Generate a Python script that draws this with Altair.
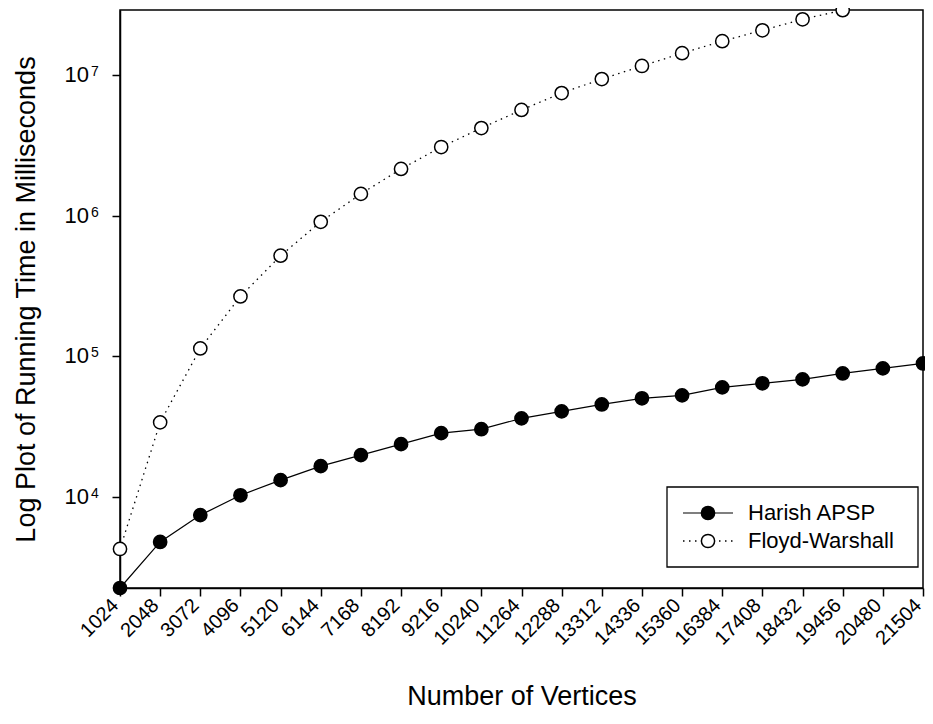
import altair as alt
import pandas as pd

vertices = [1024, 2048, 3072, 4096, 5120, 6144, 7168, 8192, 9216, 10240, 11264,
            12288, 13312, 14336, 15360, 16384, 17408, 18432, 19456, 20480, 21504]
harish = [2260, 4800, 7450, 10300, 13200, 16600, 19900, 23800, 28500, 30400, 36300,
          40700, 45600, 50400, 52900, 60300, 64400, 68700, 75700, 82200, 89200]
floyd_vertices = vertices[:19]
floyd = [4280, 34000, 114000, 267000, 520000, 906000, 1430000, 2150000, 3080000,
         4200000, 5650000, 7450000, 9370000, 11600000, 14300000, 17400000, 20800000,
         24900000, 28900000]
y_ticks = [10000, 100000, 1000000, 10000000]
y_exponents = ["4", "5", "6", "7"]
series_names = ["Harish APSP", "Floyd-Warshall"]

FONT = "Liberation Sans"
W, H = 803, 578

h_df = pd.DataFrame({"v": vertices, "t": harish})
f_df = pd.DataFrame({"v": floyd_vertices, "t": floyd})
yt_df = pd.DataFrame({"t": y_ticks, "e": y_exponents})

xscale = alt.Scale(domain=[1024, 21504], nice=False, zero=False)
yscale = alt.Scale(type="log", domain=[2260, 2.9e7], nice=False)

x_enc = alt.X("v:Q", scale=xscale,
              axis=alt.Axis(values=vertices, format="d", labelAngle=-45,
                            labelAlign="right", labelBaseline="middle",
                            labelPadding=6, labelOffset=-5, labelOverlap=False,
                            title="Number of Vertices", titlePadding=35))
y_enc = alt.Y("t:Q", scale=yscale,
              axis=alt.Axis(values=y_ticks, labels=False,
                            title="Log Plot of Running Time in Milliseconds",
                            titlePadding=71))

h_line = alt.Chart(h_df).mark_line(color="black", strokeWidth=1.2).encode(x=x_enc, y=y_enc)
f_line = alt.Chart(f_df).mark_line(color="black", strokeWidth=1.3, strokeDash=[1.5, 4.5]).encode(
    x=x_enc, y=y_enc)
h_pts = alt.Chart(h_df).mark_point(shape="circle", filled=True, fill="black",
                                   stroke="black", strokeWidth=1.5, size=175,
                                   opacity=1).encode(x=x_enc, y=y_enc)
f_pts = alt.Chart(f_df).mark_point(shape="circle", filled=True, fill="white",
                                   stroke="black", strokeWidth=1.5, size=175,
                                   opacity=1, clip=False).encode(x=x_enc, y=y_enc)

# y tick labels with superscript exponents
ybase = alt.Chart(yt_df).mark_text(align="right", baseline="middle", fontSize=22,
                                   font=FONT, color="black").encode(
    y=y_enc, x=alt.value(-31), text=alt.value("10"))
yexp = alt.Chart(yt_df).mark_text(align="left", baseline="middle", fontSize=14,
                                  font=FONT, color="black", dy=-3).encode(
    y=y_enc, x=alt.value(-29), text="e:N")

# legend
one = pd.DataFrame({"a": [0]})
box = alt.Chart(one).mark_rect(fill="white", stroke="black", strokeWidth=1.3).encode(
    x=alt.value(547), x2=alt.value(798), y=alt.value(477), y2=alt.value(557))
leg_h_line = alt.Chart(one).mark_rule(color="black", strokeWidth=1.2).encode(
    x=alt.value(563), x2=alt.value(613), y=alt.value(503))
leg_f_line = alt.Chart(one).mark_rule(color="black", strokeWidth=1.3, strokeDash=[1.5, 4.5]).encode(
    x=alt.value(563), x2=alt.value(613), y=alt.value(531))
leg_h_pt = alt.Chart(one).mark_point(shape="circle", filled=True, fill="black",
                                     stroke="black", strokeWidth=1.5, size=175, opacity=1).encode(
    x=alt.value(588), y=alt.value(503))
leg_f_pt = alt.Chart(one).mark_point(shape="circle", filled=True, fill="white",
                                     stroke="black", strokeWidth=1.5, size=175, opacity=1).encode(
    x=alt.value(588), y=alt.value(531))
leg_h_txt = alt.Chart(one).mark_text(align="left", baseline="middle", fontSize=22,
                                     font=FONT, color="black").encode(
    x=alt.value(628), y=alt.value(503), text=alt.value(series_names[0]))
leg_f_txt = alt.Chart(one).mark_text(align="left", baseline="middle", fontSize=22,
                                     font=FONT, color="black").encode(
    x=alt.value(628), y=alt.value(531), text=alt.value(series_names[1]))

chart = alt.layer(
    h_line, f_line, h_pts, f_pts, ybase, yexp,
    box, leg_h_line, leg_f_line, leg_h_pt, leg_f_pt, leg_h_txt, leg_f_txt
).properties(
    width=W, height=H,
    autosize=alt.AutoSizeParams(type="none"),
    padding={"left": 112, "top": 2, "right": 2, "bottom": 128},
    background="white",
).configure_view(
    stroke="black", strokeWidth=1.5
).configure_axis(
    labelFontSize=20, labelFont=FONT, labelColor="black",
    tickSize=8, tickColor="black", tickWidth=1.5,
    domainColor="black", domainWidth=1.5, grid=False,
    titleFontSize=27, titleFont=FONT, titleFontWeight="normal", titleColor="black",
)

chart.save("out.html", embed_options={"renderer": "svg", "actions": False})
